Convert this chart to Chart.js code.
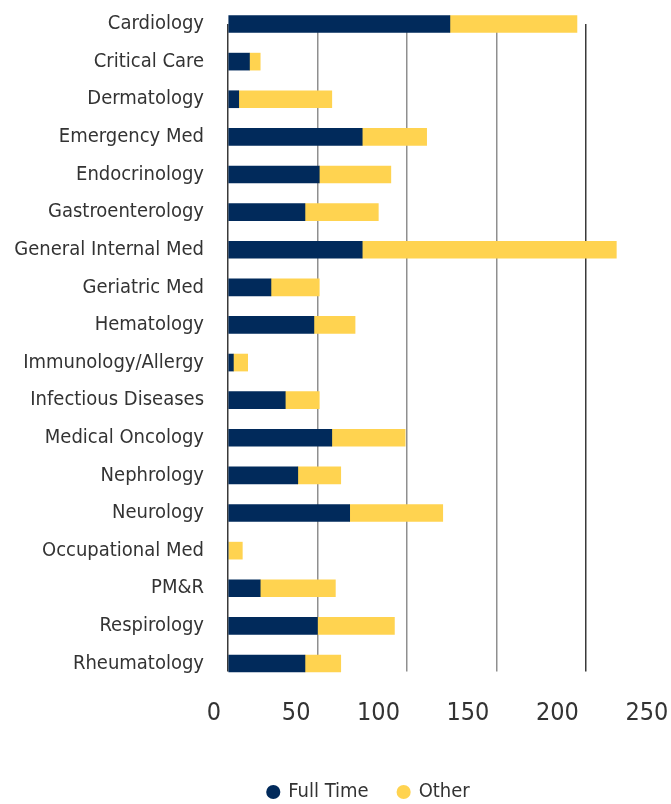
<!DOCTYPE html>
<html>
<head>
<meta charset="utf-8">
<script src="https://cdn.jsdelivr.net/npm/chart.js@4"></script>
<style>
  html, body { margin: 0; padding: 0; background: #fff; overflow: hidden; }
  #wrap { position: relative; width: 738px; height: 820px; }
</style>
</head>
<body>
<div id="wrap"><canvas id="chart"></canvas></div>
<script>
// --- Data ---
const categories = [
  'Cardiology', 'Critical Care', 'Dermatology', 'Emergency Med', 'Endocrinology',
  'Gastroenterology', 'General Internal Med', 'Geriatric Med', 'Hematology',
  'Immunology/Allergy', 'Infectious Diseases', 'Medical Oncology', 'Nephrology',
  'Neurology', 'Occupational Med', 'PM&R', 'Respirology', 'Rheumatology'
];
const fullTime = [124, 12, 6, 75, 51, 43, 75, 24, 48, 3, 32, 58, 39, 68, 0, 18, 50, 43];
const other    = [71, 6, 52, 36, 40, 41, 142, 27, 23, 8, 19, 41, 24, 52, 8, 42, 43, 20];
const xTicks = [0, 50, 100, 150, 200, 250];
const seriesNames = ['Full Time', 'Other'];

const NAVY = '#012a5b';
const GOLD = '#ffd350';
const TEXT = '#333333';
const FONT = "'Liberation Sans Narrow', 'DejaVu Sans Condensed', sans-serif";

Chart.defaults.font.family = FONT;
Chart.defaults.color = TEXT;

// --- Grid line colours: dark at 0 and 200, grey elsewhere ---
function gridColor(ctx) {
  const v = ctx.tick ? ctx.tick.value : null;
  return (v === 0 || v === 200) ? '#3a3a3a' : '#8f8f8f';
}

new Chart(document.getElementById('chart'), {
  type: 'bar',
  data: {
    labels: categories,
    datasets: [
      { label: seriesNames[0], data: fullTime, backgroundColor: NAVY },
      { label: seriesNames[1], data: other, backgroundColor: GOLD },
    ].map(ds => ({ ...ds, barThickness: 17, borderWidth: 0, clip: false })),
  },
  options: {
    indexAxis: 'y',
    responsive: true,
    maintainAspectRatio: false,
    animation: false,
    layout: { padding: { top: 24, bottom: 8, left: 0, right: 0 } },
    scales: {
      x: {
        stacked: true,
        min: 0,
        max: 285,
        afterBuildTicks: (scale) => { scale.ticks = xTicks.map(v => ({ value: v })); },
        afterFit: (scale) => { scale.height = 88.5; },
        border: { display: false },
        grid: { color: gridColor, lineWidth: 1.5, drawTicks: true, tickLength: 8, tickColor: gridColor },
        ticks: {
          align: 'end',
          labelOffset: -7,
          padding: 27,
          color: TEXT,
          font: { size: 25 },
          maxRotation: 0,
        },
      },
      y: {
        stacked: true,
        offset: false,
        afterFit: (scale) => {
          scale.width = 228;
          scale.paddingTop = 0;
          scale.paddingBottom = 0;
        },
        border: { display: false },
        grid: { display: false, drawTicks: false },
        ticks: { padding: 24, color: TEXT, font: { size: 20 } },
      },
    },
    plugins: {
      legend: {
        position: 'bottom',
        labels: {
          usePointStyle: true,
          pointStyle: 'circle',
          boxWidth: 10,
          boxHeight: 10,
          padding: 30,
          color: TEXT,
          font: { size: 20 },
        },
      },
      tooltip: { enabled: false },
    },
  },
});
</script>
</body>
</html>
